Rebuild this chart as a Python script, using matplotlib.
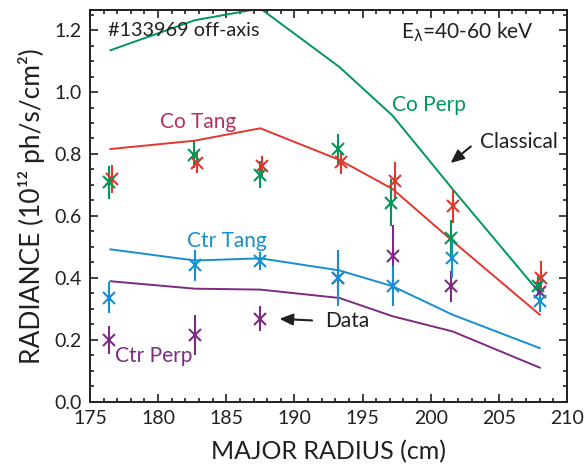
import matplotlib
matplotlib.use('Agg')
import matplotlib.pyplot as plt
from matplotlib.ticker import MultipleLocator

plt.rcParams['font.family'] = ['Lato', 'DejaVu Sans']
plt.rcParams['mathtext.fontset'] = 'dejavusans'

# model curves (classical)
r_model = [176.5, 182.7, 187.5, 193.3, 197.2, 201.6, 208.0]
co_perp_model = [1.135, 1.232, 1.27, 1.081, 0.924, 0.687, 0.351]
co_tang_model = [0.816, 0.843, 0.883, 0.781, 0.687, 0.519, 0.281]
ctr_tang_model = [0.492, 0.456, 0.463, 0.424, 0.373, 0.281, 0.173]
ctr_perp_model = [0.389, 0.365, 0.362, 0.335, 0.276, 0.227, 0.110]

# measured data
r_co_perp = [176.4, 182.65, 187.45, 193.2, 197.1, 201.5, 207.9]
co_perp = [0.708, 0.798, 0.733, 0.816, 0.643, 0.530, 0.375]
co_perp_err = [0.054, 0.043, 0.043, 0.05, 0.076, 0.057, 0.03]

r_co_tang = [176.6, 182.85, 187.65, 193.4, 197.4, 201.65, 208.1]
co_tang = [0.72, 0.772, 0.76, 0.773, 0.714, 0.632, 0.40]
co_tang_err = [0.046, 0.035, 0.034, 0.037, 0.06, 0.055, 0.054]

r_ctr_tang = [176.4, 182.7, 187.5, 193.2, 197.2, 201.6, 208.0]
ctr_tang = [0.335, 0.441, 0.454, 0.40, 0.373, 0.465, 0.324]
ctr_tang_err = [0.05, 0.05, 0.03, 0.09, 0.065, 0.065, 0.033]

r_ctr_perp = [176.4, 182.7, 187.5, 193.2, 197.2, 201.5, 208.0]
ctr_perp = [0.20, 0.216, 0.268, 0.40, 0.47, 0.373, 0.355]
ctr_perp_err = [0.046, 0.065, 0.04, 0.05, 0.1, 0.05, 0.03]

green = '#00985a'
red = '#e2372d'
blue = '#158fd0'
purple = '#7d2a82'
dark = '#231f20'

fig = plt.figure(figsize=(5.85, 4.69), dpi=100)
ax = fig.add_axes([0.1538, 0.1435, 0.8154, 0.8352])

lw = 1.4
ax.plot(r_model, ctr_perp_model, color=purple, lw=lw)
ax.plot(r_model, ctr_tang_model, color=blue, lw=lw)
ax.plot(r_model, co_tang_model, color=red, lw=lw)
ax.plot(r_model, co_perp_model, color=green, lw=lw)

ekw = dict(fmt='x', ms=9, mew=1.5, elinewidth=1.5, capsize=0)
ax.errorbar(r_ctr_perp, ctr_perp, yerr=ctr_perp_err, color=purple, **ekw)
ax.errorbar(r_co_tang, co_tang, yerr=co_tang_err, color=red, **ekw)
ax.errorbar(r_co_perp, co_perp, yerr=co_perp_err, color=green, **ekw)
ax.errorbar(r_ctr_tang, ctr_tang, yerr=ctr_tang_err, color=blue, **ekw)

ax.set_xlim(175, 210)
ax.set_ylim(0, 1.265)
ax.xaxis.set_major_locator(MultipleLocator(5))
ax.xaxis.set_minor_locator(MultipleLocator(1))
ax.yaxis.set_major_locator(MultipleLocator(0.2))
ax.yaxis.set_minor_locator(MultipleLocator(0.05))
ax.yaxis.set_major_formatter(plt.FormatStrFormatter('%.1f'))
ax.tick_params(which='both', direction='in', top=True, right=True, colors=dark,
               labelsize=14, width=1.2)
ax.tick_params(which='major', length=6, pad=6)
ax.tick_params(which='minor', length=3)
for s in ax.spines.values():
    s.set_linewidth(1.4)
    s.set_color(dark)

ax.set_xlabel('MAJOR RADIUS (cm)', fontsize=18, color=dark, labelpad=9)
ax.set_ylabel('RADIANCE (10¹² ph/s/cm²)', fontsize=19, color=dark, labelpad=7)

ax.text(176.3, 1.20, '#133969 off-axis', fontsize=14.3, color=dark, va='center', ha='left')
ax.text(207.55, 1.194, r'E$_{\mathrm{\lambda}}$=40-60 keV', fontsize=15, color=dark,
        va='center', ha='right')
ax.text(182.9, 0.902, 'Co Tang', fontsize=15, color='#b5325c', va='center', ha='center')
ax.text(199.9, 0.957, 'Co Perp', fontsize=15, color=green, va='center', ha='center')
ax.text(185.06, 0.519, 'Ctr Tang', fontsize=15, color=blue, va='center', ha='center')
ax.text(179.7, 0.146, 'Ctr Perp', fontsize=15, color=purple, va='center', ha='center')
ax.text(206.5, 0.838, 'Classical', fontsize=15, color=dark, va='center', ha='center')
ax.text(193.9, 0.259, 'Data', fontsize=15, color=dark, va='center', ha='center')

akw = dict(arrowstyle='-|>,head_length=0.8,head_width=0.35', color=dark, lw=1.5)
ax.annotate('', xy=(201.3, 0.765), xytext=(203.1, 0.83), arrowprops=akw)
ax.annotate('', xy=(188.7, 0.268), xytext=(191.5, 0.262), arrowprops=akw)

fig.savefig('out.png', dpi=100)
